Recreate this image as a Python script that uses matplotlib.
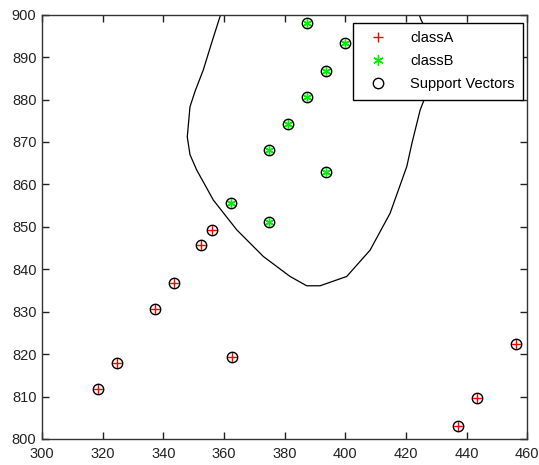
import matplotlib
matplotlib.use("Agg")
import matplotlib.pyplot as plt

plt.rcParams['font.family'] = ['Liberation Sans', 'DejaVu Sans']

classA_x = [318.4, 324.6, 337.2, 343.5, 352.4, 356.1, 362.7, 437.1, 443.3, 456.3]
classA_y = [811.7, 818.0, 830.6, 836.7, 845.6, 849.3, 819.3, 803.0, 809.7, 822.4]

classB_x = [387.4, 400.0, 393.8, 387.4, 381.2, 374.9, 393.8, 362.4, 374.9]
classB_y = [898.0, 893.3, 886.8, 880.6, 874.2, 868.1, 862.8, 855.5, 851.1]

boundary_x = [360.0, 358.9, 356.0, 353.2, 350.5, 348.8, 347.9, 348.8, 351.0, 356.5, 364.2,
              373.0, 381.8, 387.3, 391.7, 400.5, 408.2, 414.8, 420.3, 422.0, 424.7, 426.0,
              427.5, 428.0, 427.0, 425.0, 424.4, 424.0]
boundary_y = [903.0, 900.0, 893.5, 887.0, 882.0, 878.3, 871.2, 867.0, 863.4, 856.3, 849.3,
              843.0, 838.3, 836.1, 836.1, 838.3, 844.5, 853.2, 864.2, 869.7, 877.5, 879.9,
              886.0, 892.0, 896.0, 898.8, 900.0, 903.0]

xticks = [300, 320, 340, 360, 380, 400, 420, 440, 460]
yticks = [800, 810, 820, 830, 840, 850, 860, 870, 880, 890, 900]

fig = plt.figure(figsize=(5.39, 4.65), dpi=100)
ax = fig.add_axes([0.078, 0.056, 0.900, 0.9125])

ax.plot(boundary_x, boundary_y, color='black', lw=0.9, zorder=2)
hA, = ax.plot(classA_x, classA_y, linestyle='none', marker='+', color='red',
              markersize=7, markeredgewidth=1.0, zorder=4, label='classA')
hB, = ax.plot(classB_x, classB_y, linestyle='none', marker=(6, 2, 0), color='#00ee00',
              markersize=7.5, markeredgewidth=1.0, zorder=4, label='classB')
sv_x = classA_x + classB_x
sv_y = classA_y + classB_y
hS, = ax.plot(sv_x, sv_y, linestyle='none', marker='o', markerfacecolor='none',
              markeredgecolor='black', markersize=7.5, markeredgewidth=1.0, zorder=5,
              label='Support Vectors')

ax.set_xlim(300, 460)
ax.set_ylim(800, 900)
ax.set_xticks(xticks)
ax.set_yticks(yticks)
ax.tick_params(direction='in', top=True, right=True, length=5, width=1,
               labelsize=10.5, colors='#222222')
ax.tick_params(axis='x', pad=6)
ax.tick_params(axis='y', pad=4)
for s in ax.spines.values():
    s.set_color('#333333')
    s.set_linewidth(1.0)

leg = ax.legend(handles=[hA, hB, hS], loc='upper right', bbox_to_anchor=(0.992, 0.981),
                borderaxespad=0, fancybox=False, framealpha=1, edgecolor='black',
                fontsize=10.5, handletextpad=1.1, borderpad=0.6, labelspacing=0.6,
                handlelength=2.2)
leg.get_frame().set_linewidth(1.0)
leg.set_zorder(10)

fig.savefig('out.png', dpi=100)
